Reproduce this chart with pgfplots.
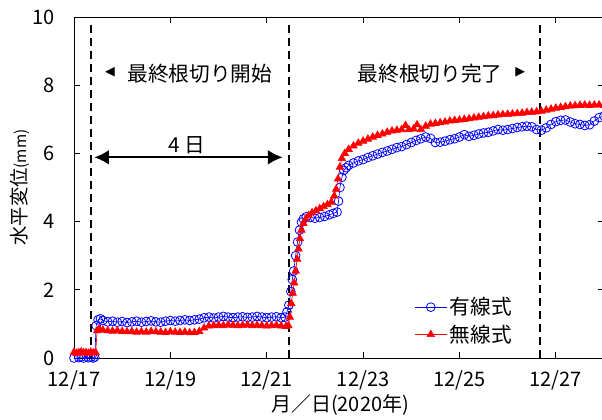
\documentclass[border=0pt]{standalone}
\usepackage{fontspec}
\setmainfont{Noto Sans CJK JP}
\newfontfamily\dejavu{DejaVu Sans}
\usepackage{pgfplots}
\pgfplotsset{compat=1.18}
\usetikzlibrary{arrows.meta}

\begin{document}
\begin{tikzpicture}
\useasboundingbox (-55.5pt,-45.75pt) rectangle (396pt,268.5pt);
\begin{axis}[
  at={(0pt,0pt)}, anchor=south west,
  scale only axis, width=397.5pt, height=255.75pt,
  xmin=0, xmax=11, ymin=0, ymax=10,
  xtick={0,2,4,6,8,10},
  xticklabels={12/17,12/19,12/21,12/23,12/25,12/27},
  ytick={0,2,4,6,8,10},
  /pgf/number format/assume math mode=true,
  tick align=inside, major tick length=4.5pt,
  tick style={black, line width=0.6pt},
  axis line style={line width=0.7pt},
  tick label style={font=\fontsize{15}{17}\selectfont, inner sep=0pt},
  yticklabel style={xshift=-14pt},
  xticklabel style={yshift=-9pt},
  xlabel={月／日(2020年)},
  ylabel={水平変位{\fontsize{11.5}{13}\selectfont (mm)}},
  xlabel style={at={(axis description cs:0.502,-0.137)}, anchor=center, font=\fontsize{15}{17}\selectfont},
  ylabel style={at={(axis description cs:-0.102,0.5)}, anchor=center, font=\fontsize{14.5}{17}\selectfont},
  legend style={draw=none, fill=none, at={(axis description cs:0.642,0.109)}, anchor=west,
    font=\fontsize{15.5}{17}\selectfont, row sep=2pt, inner sep=0pt},
  legend cell align=left,
  legend image code/.code={\draw[mark repeat=2,mark phase=2] plot coordinates {(0cm,0cm) (0.42cm,0cm) (0.84cm,0cm)};},
]
\addplot[color=blue, line width=0.5pt, mark=o, mark size=3.3pt, mark options={line width=0.6pt}] coordinates {
(0.0,0.0) (0.05,-0.02) (0.1,0.01) (0.15,0.03) (0.2,0.0) (0.25,-0.02) (0.3,0.01) (0.35,0.02) (0.4,0.0) (0.43,0.03)
(0.46,0.95) (0.5,1.12) (0.55,1.15) (0.6,1.1) (0.7,1.06) (0.8,1.08) (0.9,1.05) (1.0,1.07) (1.1,1.04) (1.2,1.06)
(1.3,1.08) (1.4,1.05) (1.5,1.07) (1.6,1.09) (1.7,1.06) (1.8,1.05) (1.9,1.08) (2.0,1.1) (2.1,1.08) (2.2,1.1)
(2.3,1.12) (2.4,1.1) (2.5,1.12) (2.6,1.14) (2.7,1.18) (2.8,1.2) (2.9,1.17) (3.0,1.2) (3.1,1.22) (3.2,1.2)
(3.3,1.18) (3.4,1.2) (3.5,1.21) (3.6,1.19) (3.7,1.2) (3.8,1.22) (3.9,1.2) (4.0,1.18) (4.1,1.2) (4.2,1.21)
(4.3,1.18) (4.38,1.2) (4.42,1.35) (4.46,1.55) (4.5,1.95) (4.53,2.3) (4.56,2.55) (4.6,3.0) (4.64,3.4) (4.68,3.75)
(4.72,3.98) (4.76,4.08) (4.82,4.14) (4.9,4.12) (5.0,4.1) (5.1,4.12) (5.2,4.15) (5.3,4.2) (5.38,4.24) (5.46,4.28)
(5.49,4.6) (5.52,5.0) (5.56,5.3) (5.6,5.5) (5.65,5.58) (5.7,5.65) (5.8,5.72) (5.9,5.78) (6.0,5.82) (6.1,5.88)
(6.2,5.93) (6.3,5.98) (6.4,6.03) (6.5,6.07) (6.6,6.12) (6.7,6.17) (6.8,6.2) (6.9,6.26) (7.0,6.32) (7.1,6.38)
(7.2,6.43) (7.3,6.48) (7.4,6.44) (7.5,6.32) (7.6,6.33) (7.7,6.36) (7.8,6.4) (7.9,6.43) (8.0,6.48) (8.1,6.55)
(8.2,6.5) (8.3,6.53) (8.4,6.57) (8.5,6.6) (8.6,6.62) (8.7,6.66) (8.8,6.7) (8.9,6.68) (9.0,6.7) (9.1,6.73)
(9.2,6.76) (9.3,6.78) (9.4,6.8) (9.5,6.78) (9.6,6.7) (9.7,6.68) (9.8,6.75) (9.9,6.85) (10.0,6.93) (10.1,6.97)
(10.2,6.98) (10.3,6.92) (10.4,6.87) (10.5,6.85) (10.6,6.82) (10.7,6.84) (10.8,6.95) (10.9,7.05) (11.0,7.1)
};
\addlegendentry{有線式}
\addplot[color=red, line width=0.5pt, mark=triangle*, mark size=3.2pt, mark options={fill=red}] coordinates {
(0.0,0.17) (0.05,0.14) (0.1,0.16) (0.15,0.18) (0.2,0.15) (0.25,0.16) (0.3,0.14) (0.35,0.17) (0.4,0.15) (0.45,0.16)
(0.48,0.8) (0.52,0.85) (0.6,0.82) (0.7,0.8) (0.8,0.79) (0.9,0.8) (1.0,0.78) (1.1,0.77) (1.2,0.78) (1.3,0.76)
(1.4,0.77) (1.5,0.76) (1.6,0.78) (1.7,0.77) (1.8,0.76) (1.9,0.75) (2.0,0.77) (2.1,0.76) (2.2,0.75) (2.3,0.76)
(2.4,0.74) (2.5,0.75) (2.6,0.78) (2.7,0.88) (2.8,0.94) (2.9,0.95) (3.0,0.96) (3.1,0.95) (3.2,0.97) (3.3,0.96)
(3.4,0.95) (3.5,0.96) (3.6,0.97) (3.7,0.95) (3.8,0.96) (3.9,0.95) (4.0,0.94) (4.1,0.95) (4.2,0.96) (4.3,0.94)
(4.4,0.93) (4.45,0.95) (4.48,1.2) (4.51,1.6) (4.54,1.9) (4.57,2.2) (4.6,2.55) (4.63,2.9) (4.66,3.2) (4.69,3.5)
(4.72,3.75) (4.76,3.95) (4.81,4.08) (4.87,4.18) (4.94,4.26) (5.02,4.32) (5.1,4.38) (5.18,4.44) (5.26,4.5) (5.34,4.57)
(5.4,4.75) (5.44,4.95) (5.48,5.25) (5.52,5.6) (5.56,5.85) (5.62,6.0) (5.7,6.12) (5.8,6.22) (5.9,6.3) (6.0,6.36)
(6.1,6.42) (6.2,6.48) (6.3,6.53) (6.4,6.57) (6.5,6.62) (6.6,6.66) (6.7,6.68) (6.8,6.7) (6.88,6.82) (6.95,6.7)
(7.05,6.72) (7.12,6.84) (7.2,6.7) (7.3,6.8) (7.4,6.86) (7.5,6.88) (7.6,6.9) (7.7,6.92) (7.8,6.95) (7.9,6.97)
(8.0,6.98) (8.1,7.0) (8.2,7.02) (8.3,7.04) (8.4,7.06) (8.5,7.08) (8.6,7.1) (8.7,7.11) (8.8,7.13) (8.9,7.14)
(9.0,7.15) (9.1,7.16) (9.2,7.17) (9.3,7.18) (9.4,7.2) (9.5,7.21) (9.6,7.22) (9.7,7.24) (9.8,7.27) (9.9,7.3)
(10.0,7.33) (10.1,7.35) (10.2,7.37) (10.3,7.39) (10.4,7.4) (10.5,7.41) (10.6,7.42) (10.7,7.41) (10.8,7.42) (10.9,7.42) (11.0,7.41)
};
\addlegendentry{無線式}
% dashed markers
\addplot[black, line width=1.7pt, dash pattern=on 6pt off 3.75pt, forget plot] coordinates {(0.347,0) (0.347,9.8)};
\addplot[black, line width=1.7pt, dash pattern=on 6pt off 3.75pt, forget plot] coordinates {(4.456,0) (4.456,9.8)};
\addplot[black, line width=1.7pt, dash pattern=on 6pt off 3.75pt, forget plot] coordinates {(9.67,0) (9.67,9.8)};
% annotations
\draw[{Latex[length=11pt,width=11pt]}-{Latex[length=11pt,width=11pt]}, line width=1.5pt] (axis cs:0.42,5.885) -- (axis cs:4.33,5.885);
\node[font=\fontsize{15.5}{18}\selectfont] at (axis cs:2.345,6.25) {4 日};
\node[font=\fontsize{15.5}{18}\selectfont] at (axis cs:2.615,8.35) {最終根切り開始};
\node[font=\fontsize{15.5}{18}\selectfont] at (axis cs:7.39,8.35) {最終根切り完了};
\node[font=\dejavu\fontsize{9.5}{10}\selectfont] at (axis cs:0.747,8.37) {◀};
\node[font=\dejavu\fontsize{9.5}{10}\selectfont] at (axis cs:9.26,8.37) {▶};
\end{axis}
\end{tikzpicture}
\end{document}
